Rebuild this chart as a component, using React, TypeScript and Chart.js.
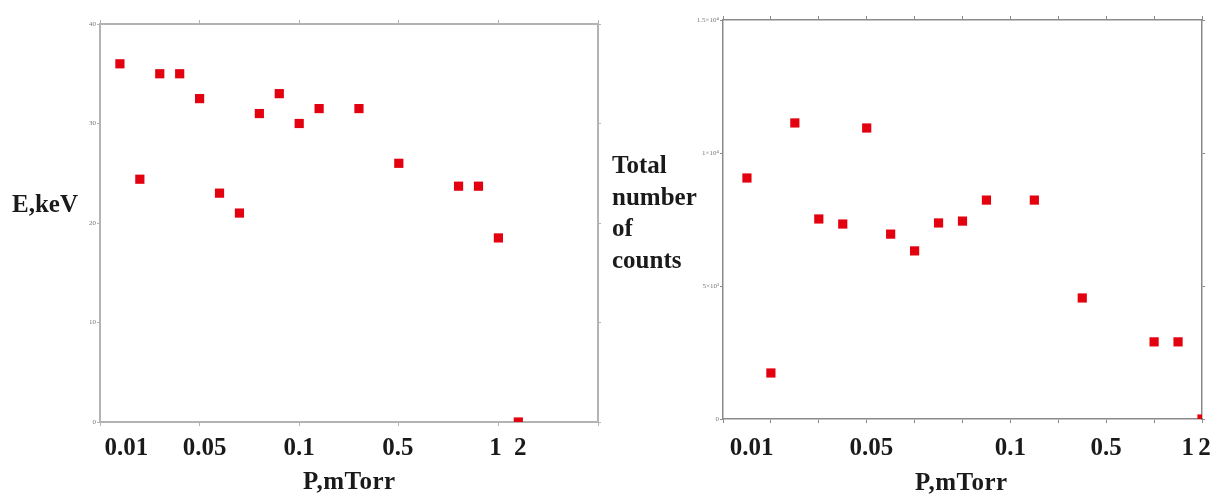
import React, { useEffect, useRef } from "react";
import { Chart, registerables } from "chart.js";

Chart.register(...registerables);

// ---- Left chart data (E, keV vs pressure, plotted on index positions) ----
const leftX = [1, 2, 3, 4, 5, 6, 7, 8, 9, 10, 11, 13, 15, 18, 19, 20, 21];
const leftE = [36, 24.4, 35, 35, 32.5, 23, 21, 31, 33, 30, 31.5, 31.5, 26, 23.7, 23.7, 18.5, 0];
const leftXLabelPos = [1.33, 5.25, 10, 14.95, 19.85, 21.1];
const leftXLabels = ["0.01", "0.05", "0.1", "0.5", "1", "2"];
const leftYTicks = [0, 10, 20, 30, 40];

// ---- Right chart data (total number of counts vs pressure) ----
const rightX = [0.5, 1, 1.5, 2, 2.5, 3, 3.5, 4, 4.5, 5, 5.5, 6.5, 7.5, 9, 9.5, 10];
const rightCounts = [9060, 1730, 11130, 7520, 7330, 10940, 6950, 6320, 7370, 7440, 8230, 8230, 4550, 2900, 2900, 0];
const rightXLabelPos = [0.6, 3.1, 6.0, 8.0, 9.7, 10.05];
const rightXLabels = ["0.01", "0.05", "0.1", "0.5", "1", "2"];
const rightYTickValues = [0, 5000, 10000, 15000];
const rightYTickLabels = ["0", "5×10³", "1×10⁴", "1.5×10⁴"];

const SERIF = "'Liberation Serif', 'Times New Roman', serif";
const RED = "#e3000f";

function makeConfig(opts: any) {
  const {
    xs, ys, xMax, xStep, labelPos, labels, yMax, yStep, yTickLabel,
    leftW, rightW, topH, bottomH, labelPad, frameColor, frameWidth,
  } = opts;
  const data = xs.map((x: number, i: number) => ({ x, y: ys[i] }));
  const tickMarkAxis = (position: string, h: number, weight: number) => ({
    type: "linear",
    position,
    min: 0,
    max: xMax,
    weight,
    ticks: { display: false, stepSize: xStep },
    grid: { drawOnChartArea: false, tickLength: 4, color: frameColor, lineWidth: 1 },
    border: { display: true, color: frameColor, width: frameWidth },
    afterFit: (s: any) => { s.height = h; },
  });
  return {
    type: "scatter",
    data: {
      datasets: [
        {
          data,
          xAxisID: "x",
          yAxisID: "y",
          pointStyle: "rect",
          pointRadius: 6.5,
          pointHoverRadius: 6.5,
          backgroundColor: RED,
          borderWidth: 0,
        },
      ],
    },
    options: {
      responsive: false,
      animation: false,
      layout: { padding: 0 },
      plugins: { legend: { display: false }, tooltip: { enabled: false } },
      scales: {
        x: {
          type: "linear",
          position: "bottom",
          min: 0,
          max: xMax,
          weight: 1,
          grid: { display: false },
          border: { display: false },
          afterBuildTicks: (s: any) => {
            s.ticks = labelPos.map((v: number) => ({ value: v }));
          },
          ticks: {
            autoSkip: false,
            maxRotation: 0,
            minRotation: 0,
            padding: labelPad,
            color: "#1a1a1a",
            font: { family: SERIF, size: 25, weight: "bold" },
            callback: (_v: any, i: number) => labels[i],
          },
          afterFit: (s: any) => { s.height = bottomH - 4; },
        },
        xb: tickMarkAxis("bottom", 4, 0),
        xt: tickMarkAxis("top", topH, 0),
        y: {
          type: "linear",
          position: "left",
          min: 0,
          max: yMax,
          ticks: {
            stepSize: yStep,
            padding: 1,
            color: "#777",
            font: { family: SERIF, size: 7 },
            callback: yTickLabel,
          },
          grid: { drawOnChartArea: false, tickLength: 3, color: frameColor },
          border: { display: true, color: frameColor, width: frameWidth },
          afterFit: (s: any) => { s.width = leftW; },
        },
        yr: {
          type: "linear",
          position: "right",
          min: 0,
          max: yMax,
          ticks: { display: false, stepSize: yStep },
          grid: { drawOnChartArea: false, tickLength: 3, color: frameColor },
          border: { display: true, color: frameColor, width: frameWidth },
          afterFit: (s: any) => { s.width = rightW; },
        },
      },
    },
  };
}

function ChartCanvas({ config, width, height }: { config: any; width: number; height: number }) {
  const ref = useRef<HTMLCanvasElement | null>(null);
  useEffect(() => {
    if (!ref.current) return;
    const chart = new Chart(ref.current, config);
    return () => chart.destroy();
  }, []);
  return <canvas ref={ref} width={width} height={height} style={{ display: "block" }} />;
}

const textStyle: React.CSSProperties = {
  position: "absolute",
  fontFamily: SERIF,
  fontWeight: "bold",
  fontSize: 25,
  lineHeight: "25px",
  color: "#1a1a1a",
  whiteSpace: "nowrap",
};

export default function App() {
  const leftConfig = makeConfig({
    xs: leftX,
    ys: leftE,
    xMax: 25,
    xStep: 5,
    labelPos: leftXLabelPos,
    labels: leftXLabels,
    yMax: 40,
    yStep: 10,
    yTickLabel: (v: number) => (leftYTicks.includes(v) ? String(v) : ""),
    leftW: 100,
    rightW: 12,
    topH: 24,
    bottomH: 73,
    labelPad: 0,
    frameColor: "#b3b3b3",
    frameWidth: 2,
  });
  const rightConfig = makeConfig({
    xs: rightX,
    ys: rightCounts,
    xMax: 10,
    xStep: 1,
    labelPos: rightXLabelPos,
    labels: rightXLabels,
    yMax: 15000,
    yStep: 5000,
    yTickLabel: (v: number) => {
      const i = rightYTickValues.indexOf(v);
      return i >= 0 ? rightYTickLabels[i] : "";
    },
    leftW: 113,
    rightW: 15,
    topH: 20,
    bottomH: 76,
    labelPad: 3,
    frameColor: "#8a8a8a",
    frameWidth: 1.5,
  });

  return (
    <div style={{ position: "absolute", left: 0, top: 0, width: 1217, height: 495, background: "#fff", overflow: "hidden" }}>
      <div style={{ position: "absolute", left: 0, top: 0 }}>
        <ChartCanvas config={leftConfig} width={610} height={495} />
      </div>
      <div style={{ position: "absolute", left: 610, top: 0 }}>
        <ChartCanvas config={rightConfig} width={607} height={495} />
      </div>
      <div style={{ ...textStyle, left: 12, top: 191 }}>E,keV</div>
      <div style={{ ...textStyle, left: 612, top: 149, lineHeight: "31.5px" }}>
        Total<br />number<br />of<br />counts
      </div>
      <div style={{ ...textStyle, left: 303, top: 468, letterSpacing: "0.5px" }}>P,mTorr</div>
      <div style={{ ...textStyle, left: 915, top: 469, letterSpacing: "0.5px" }}>P,mTorr</div>
    </div>
  );
}
